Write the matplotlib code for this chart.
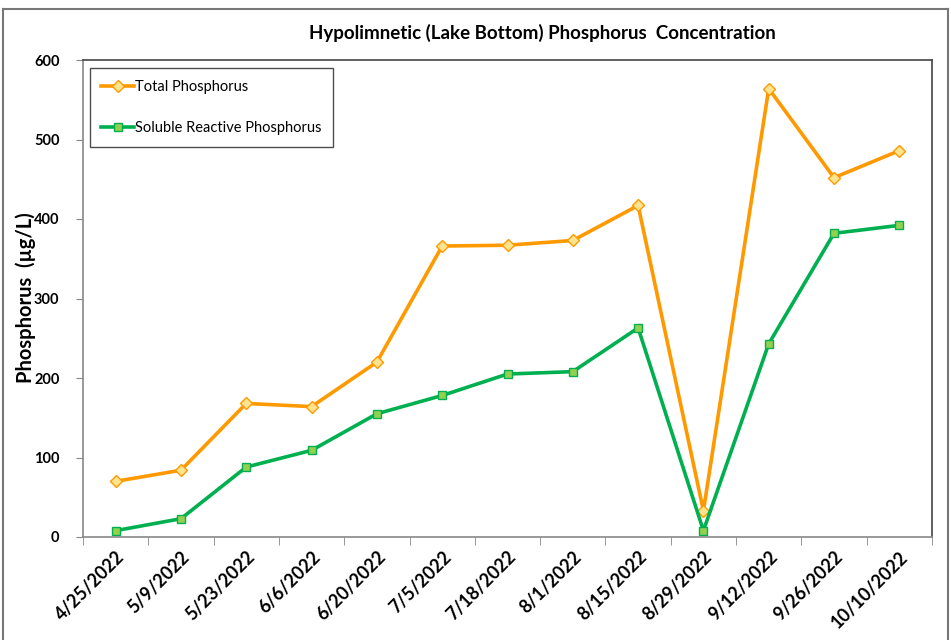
import matplotlib.pyplot as plt
from matplotlib.lines import Line2D
import numpy as np

dates = ['4/25/2022', '5/9/2022', '5/23/2022', '6/6/2022', '6/20/2022', '7/5/2022',
         '7/18/2022', '8/1/2022', '8/15/2022', '8/29/2022', '9/12/2022', '9/26/2022',
         '10/10/2022']
total_p = [70, 84, 168, 164, 220, 366, 367, 373, 417, 33, 564, 452, 486]
srp = [8, 23, 88, 109, 155, 178, 205, 208, 263, 8, 243, 382, 392]

plt.rcParams['font.family'] = ['Lato', 'DejaVu Sans']

fig = plt.figure(figsize=(9.51, 6.40), dpi=100)
ax = fig.add_axes([83/951, 1-537/640, (932-83)/951, (537-60)/640])

x = np.arange(len(dates))
ax.plot(x, total_p, color='#FF9900', lw=2.6, marker='D', ms=6.5,
        mfc='#FFE38F', mec='#FF9900', mew=1, label='Total Phosphorus')
ax.plot(x, srp, color='#00B050', lw=2.6, marker='s', ms=6,
        mfc='#92D050', mec='#00B050', mew=1, label='Soluble Reactive Phosphorus')

ax.set_xlim(-0.5, len(dates) - 0.5)
ax.set_ylim(0, 600)
ax.set_yticks(range(0, 601, 100))
ax.tick_params(axis='y', direction='out', length=5, pad=12, color='#888888', labelsize=10.5)
for t in ax.get_yticklabels():
    t.set_fontweight('bold')

ax.set_xticks(x)
ax.set_xticklabels(dates, rotation=45, ha='right', rotation_mode='anchor',
                   fontsize=13, fontweight='bold')
ax.tick_params(axis='x', which='major', length=0, pad=8)
ax.set_xticks(np.arange(-0.5, len(dates)), minor=True)
ax.tick_params(axis='x', which='minor', direction='out', length=6, color='#888888')

for s in ['left', 'bottom']:
    ax.spines[s].set_color('#888888')
for s in ['top', 'right']:
    ax.spines[s].set_color('#444444')
for s in ax.spines.values():
    s.set_linewidth(1.2)

fig.text(26/951, 1-298/640, 'Phosphorus  (\u00b5g/L)', rotation=90,
         ha='center', va='center', fontsize=14.5, fontweight='bold')

fig.text(542/951, 1-33/640, 'Hypolimnetic (Lake Bottom) Phosphorus  Concentration',
         ha='center', va='center', fontsize=13.5, fontweight='bold')

leg = ax.legend(loc='upper left', bbox_to_anchor=(0.008, 0.983), fontsize=10.5,
                frameon=True, fancybox=False, labelspacing=1.9, handlelength=2.2,
                handletextpad=0.1, borderpad=0.8, borderaxespad=0)
leg.get_frame().set_edgecolor('#222222')
leg.get_frame().set_linewidth(1.0)

# outer chart border
fig.add_artist(Line2D([3/951, 3/951], [0, 1-9/640], color='#777777', lw=1.5,
                      transform=fig.transFigure))
fig.add_artist(Line2D([3/951, 948/951], [1-9/640, 1-9/640], color='#777777', lw=1.5,
                      transform=fig.transFigure))
fig.add_artist(Line2D([948/951, 948/951], [0, 1-9/640], color='#777777', lw=1.5,
                      transform=fig.transFigure))

fig.savefig('out.png', dpi=100)
